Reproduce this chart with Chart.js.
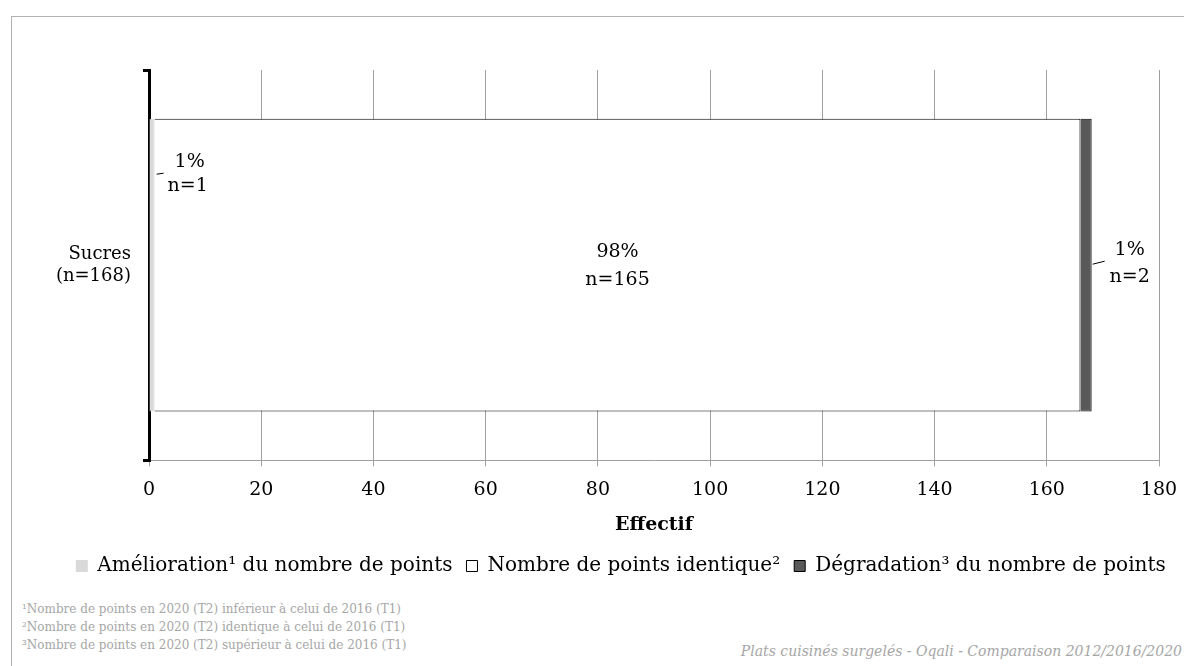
<!DOCTYPE html>
<html>
<head>
<meta charset="utf-8">
<script src="https://cdn.jsdelivr.net/npm/chart.js@4"></script>
<style>
  body { margin: 0; background: #fff; width: 1184px; height: 666px; overflow: hidden; position: relative; }
  #frame { position: absolute; left: 11px; top: 16px; width: 1200px; height: 700px; border: 1px solid #b0b0b0; border-right: none; }
  #wrap { position: absolute; left: 0; top: 0; width: 1184px; height: 586px; }
  .note { position: absolute; left: 22px; font-family: 'DejaVu Serif', serif; font-size: 12px; color: #a6a6a6; white-space: nowrap; }
  #source { position: absolute; right: 2px; top: 643px; font-family: 'DejaVu Serif', serif; font-style: italic; font-size: 14px; color: #a6a6a6; white-space: nowrap; }
</style>
</head>
<body>
<div id="frame"></div>
<div id="wrap"><canvas id="chart"></canvas></div>
<div class="note" style="top:602px">¹Nombre de points en 2020 (T2) inférieur à celui de 2016 (T1)</div>
<div class="note" style="top:620px">²Nombre de points en 2020 (T2) identique à celui de 2016 (T1)</div>
<div class="note" style="top:638px">³Nombre de points en 2020 (T2) supérieur à celui de 2016 (T1)</div>
<div id="source">Plats cuisinés surgelés - Oqali - Comparaison 2012/2016/2020</div>
<script>
// données
const categories = [['Sucres', '(n=168)']]
const seriesNames = [
  'Amélioration¹ du nombre de points',
  'Nombre de points identique²',
  'Dégradation³ du nombre de points'
]
const ameliorationCounts = [1]
const identiqueCounts = [165]
const degradationCounts = [2]
const totals = [168]
const xMax = 180
const xStep = 20

const FONT = 'DejaVu Serif'

const pct = (v, i) => Math.round(v / totals[i] * 100) + '%'

// étiquettes de données (avec traits de rappel pour les petites barres)
const labelPlugin = {
  id: 'barLabels',
  afterLayout(chart) {
    // la légende est un peu décalée vers la droite dans l'original
    chart.legend.left += 30
    chart.legend.right += 30
  },
  afterDatasetsDraw(chart) {
    const ctx = chart.ctx
    ctx.save()
    ctx.font = '19px "' + FONT + '"'
    ctx.fillStyle = '#000'
    ctx.textAlign = 'center'
    ctx.textBaseline = 'middle'
    ctx.strokeStyle = '#000'
    ctx.lineWidth = 1
    chart.data.datasets.forEach((ds, di) => {
      const meta = chart.getDatasetMeta(di)
      meta.data.forEach((bar, i) => {
        const v = ds.data[i]
        const lines = [pct(v, i), 'n=' + v]
        if (di === 1) {
          const cx = (bar.base + bar.x) / 2
          ctx.fillText(lines[0], cx, bar.y - 13)
          ctx.fillText(lines[1], cx, bar.y + 15)
        } else if (di === 0) {
          const ly = bar.y - 92
          ctx.beginPath()
          ctx.moveTo(bar.x + 2, ly + 1)
          ctx.lineTo(bar.x + 9, ly)
          ctx.stroke()
          ctx.fillText(lines[0], bar.x + 35, ly - 11)
          ctx.fillText(lines[1], bar.x + 33, ly + 13)
        } else {
          const ly = bar.y - 2
          ctx.beginPath()
          ctx.moveTo(bar.x + 1, ly + 1)
          ctx.lineTo(bar.x + 13, ly - 2)
          ctx.stroke()
          ctx.fillText(lines[0], bar.x + 38, ly - 13)
          ctx.fillText(lines[1], bar.x + 38, ly + 14)
        }
      })
    })
    ctx.restore()
  }
}

const canvas = document.getElementById('chart')

new Chart(canvas, {
  type: 'bar',
  data: {
    labels: categories,
    datasets: [
      { label: seriesNames[0], data: ameliorationCounts, backgroundColor: '#d9d9d9', borderColor: '#d9d9d9', borderWidth: 1 },
      { label: seriesNames[1], data: identiqueCounts, backgroundColor: '#ffffff', borderColor: '#000000', borderWidth: 1 },
      { label: seriesNames[2], data: degradationCounts, backgroundColor: '#595959', borderColor: '#000000', borderWidth: 1 }
    ]
  },
  options: {
    indexAxis: 'y',
    responsive: true,
    maintainAspectRatio: false,
    animation: false,
    layout: { padding: { top: 70, left: 0, right: 2, bottom: 0 } },
    datasets: { bar: { barPercentage: 0.75, categoryPercentage: 1 } },
    scales: {
      x: {
        stacked: true,
        min: 0,
        max: xMax,
        afterFit(scale) { scale.paddingRight = 25 },
        ticks: { stepSize: xStep, color: '#000', font: { family: FONT, size: 19 }, padding: 12 },
        grid: { color: '#a0a0a0', lineWidth: 1, tickLength: 6 },
        border: { color: '#a0a0a0' },
        title: { display: true, text: 'Effectif', color: '#000', font: { family: FONT, size: 19, weight: 'bold' }, padding: { top: 0, bottom: 6 } }
      },
      y: {
        stacked: true,
        afterFit(scale) { scale.width = 149 },
        ticks: { color: '#000', font: { family: FONT, size: 18 }, padding: 12 },
        grid: { drawOnChartArea: false, color: '#000', lineWidth: 3, tickLength: 6 },
        border: { color: '#000', width: 3 }
      }
    },
    plugins: {
      tooltip: { enabled: false },
      legend: {
        position: 'bottom',
        labels: {
          color: '#000',
          font: { family: FONT, size: 20 },
          boxWidth: 11,
          boxHeight: 11,
          padding: 14
        }
      }
    }
  },
  plugins: [labelPlugin]
})
</script>
</body>
</html>
